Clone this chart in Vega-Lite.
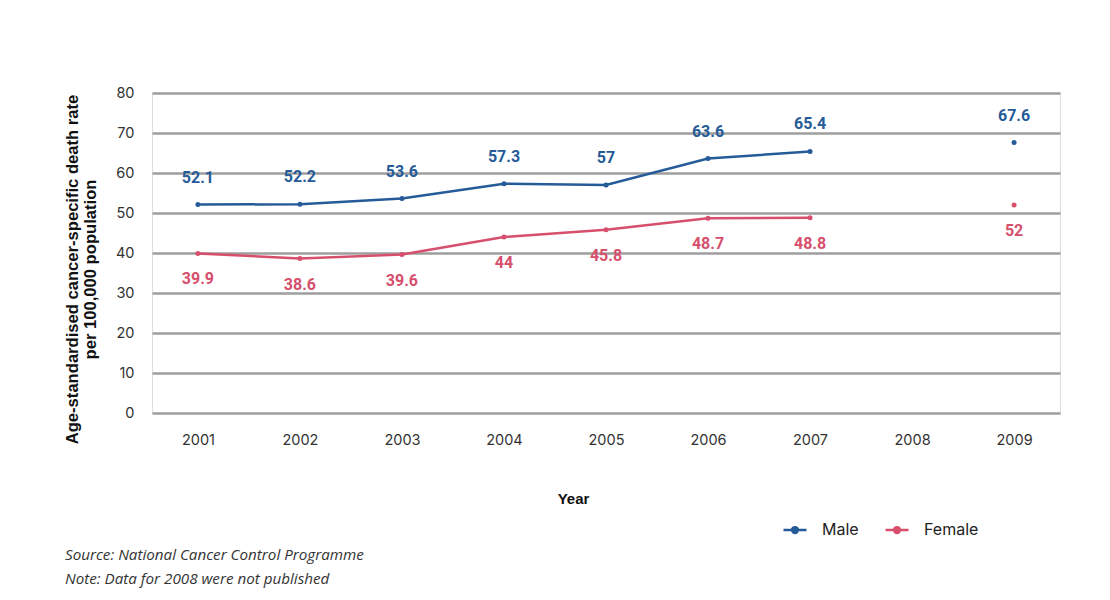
{
  "$schema": "https://vega.github.io/schema/vega-lite/v6.json",
  "width": 908,
  "height": 320,
  "autosize": {"type": "none"},
  "padding": {"left": 152, "top": 93, "right": 50, "bottom": 187},
  "background": "white",
  "title": {
    "text": ["Source: National Cancer Control Programme", "Note: Data for 2008 were not published"],
    "orient": "bottom",
    "anchor": "start",
    "frame": "group",
    "dx": -87,
    "offset": 10,
    "font": "Open Sans",
    "fontStyle": "italic",
    "fontWeight": "normal",
    "fontSize": 15.2,
    "color": "#333333",
    "lineHeight": 24
  },
  "data": {
    "values": [
      {"year": 2001, "sex": "Male", "rate": 52.1},
      {"year": 2002, "sex": "Male", "rate": 52.2},
      {"year": 2003, "sex": "Male", "rate": 53.6},
      {"year": 2004, "sex": "Male", "rate": 57.3},
      {"year": 2005, "sex": "Male", "rate": 57},
      {"year": 2006, "sex": "Male", "rate": 63.6},
      {"year": 2007, "sex": "Male", "rate": 65.4},
      {"year": 2009, "sex": "Male", "rate": 67.6},
      {"year": 2001, "sex": "Female", "rate": 39.9},
      {"year": 2002, "sex": "Female", "rate": 38.6},
      {"year": 2003, "sex": "Female", "rate": 39.6},
      {"year": 2004, "sex": "Female", "rate": 44},
      {"year": 2005, "sex": "Female", "rate": 45.8},
      {"year": 2006, "sex": "Female", "rate": 48.7},
      {"year": 2007, "sex": "Female", "rate": 48.8},
      {"year": 2009, "sex": "Female", "rate": 52}
    ]
  },
  "encoding": {
    "x": {
      "field": "year",
      "type": "ordinal",
      "scale": {"type": "point", "domain": [2001, 2002, 2003, 2004, 2005, 2006, 2007, 2008, 2009], "padding": 0.45},
      "axis": {
        "title": "Year",
        "labelAngle": 0,
        "labelPadding": 20,
        "ticks": false,
        "domain": false,
        "grid": false,
        "labelFont": "Inter",
        "labelFontSize": 14.5,
        "labelColor": "#333333",
        "titleFont": "Liberation Sans",
        "titleFontSize": 15,
        "titleFontWeight": "bold",
        "titleColor": "#111111",
        "titleX": 421,
        "titleY": 85,
        "titleBaseline": "middle"
      }
    },
    "y": {
      "field": "rate",
      "type": "quantitative",
      "scale": {"domain": [0, 80], "nice": false},
      "axis": {
        "title": ["Age-standardised cancer-specific death rate", "per 100,000 population"],
        "values": [0, 10, 20, 30, 40, 50, 60, 70, 80],
        "ticks": false,
        "domain": false,
        "grid": true,
        "gridColor": "#9e9e9e",
        "gridWidth": 2.5,
        "labelPadding": 18,
        "labelFont": "Inter",
        "labelFontSize": 14.5,
        "labelColor": "#333333",
        "titleFont": "Liberation Sans",
        "titleFontSize": 16.6,
        "titleFontWeight": "bold",
        "titleColor": "#111111",
        "titleAngle": -90,
        "titleX": -75,
        "titleY": 176,
        "titleAlign": "center",
        "titleBaseline": "alphabetic",
        "titleLineHeight": 18
      }
    },
    "color": {
      "field": "sex",
      "type": "nominal",
      "scale": {"domain": ["Male", "Female"], "range": ["#255b98", "#d64f6d"]},
      "legend": {
        "title": null,
        "orient": "none",
        "legendX": 630,
        "legendY": 424,
        "direction": "horizontal",
        "symbolType": "M-1,0H1M-0.25,0A0.25,0.25 0 1,1 0.25,0A0.25,0.25 0 1,1 -0.25,0Z",
        "symbolSize": 529,
        "symbolStrokeWidth": 2.5,
        "labelFont": "Inter",
        "labelFontSize": 16,
        "labelColor": "#222222",
        "labelOffset": 14,
        "columnPadding": 21,
        "encode": {
          "symbols": {
            "update": {
              "fill": {"scale": "color", "field": "value"},
              "stroke": {"scale": "color", "field": "value"},
              "strokeWidth": {"value": 2.5},
              "opacity": {"value": 1}
            }
          }
        }
      }
    }
  },
  "layer": [
    {
      "transform": [{"filter": "datum.year <= 2007"}],
      "mark": {"type": "line", "strokeWidth": 2.5}
    },
    {
      "mark": {"type": "point", "filled": true, "size": 25, "opacity": 1}
    },
    {
      "transform": [{"filter": "datum.sex == 'Male'"}],
      "mark": {"type": "text", "dy": -27, "font": "Roboto", "fontWeight": "bold", "fontSize": 16, "baseline": "middle"},
      "encoding": {"text": {"field": "rate", "type": "quantitative"}}
    },
    {
      "transform": [{"filter": "datum.sex == 'Female'"}],
      "mark": {"type": "text", "dy": 26, "font": "Roboto", "fontWeight": "bold", "fontSize": 16, "baseline": "middle"},
      "encoding": {"text": {"field": "rate", "type": "quantitative"}}
    }
  ]
}
